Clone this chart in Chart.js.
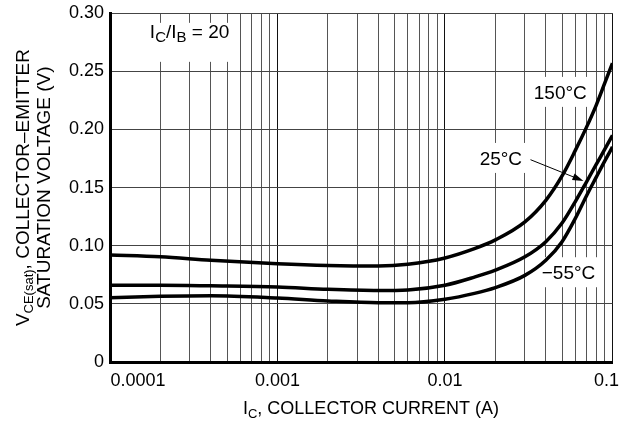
<!DOCTYPE html>
<html>
<head>
<meta charset="utf-8">
<script src="https://cdn.jsdelivr.net/npm/chart.js@4.4.1/dist/chart.umd.min.js"></script>
<style>
  html, body { margin: 0; padding: 0; background: #fff; }
  #wrap { width: 633px; height: 429px; }
</style>
</head>
<body>
<div id="wrap"><canvas id="vce"></canvas></div>
<script>
// --- data (Ic in A, Vce(sat) in V) ---
const currents = [0.0001, 0.0002, 0.0004, 0.001, 0.002, 0.004, 0.006, 0.01, 0.015,
                  0.02, 0.03, 0.04, 0.05, 0.06, 0.07, 0.08, 0.09, 0.1];
const vce150 = [0.092, 0.0905, 0.0875, 0.0845, 0.083, 0.0825, 0.084, 0.0895, 0.0975,
                0.105, 0.1205, 0.139, 0.160, 0.182, 0.202, 0.221, 0.240, 0.257];
const vce25  = [0.066, 0.066, 0.0655, 0.0645, 0.0625, 0.0615, 0.062, 0.066, 0.073,
                0.079, 0.0905, 0.1035, 0.1195, 0.138, 0.155, 0.170, 0.183, 0.195];
const vceM55 = [0.0553, 0.0565, 0.057, 0.055, 0.0525, 0.051, 0.051, 0.054, 0.059,
                0.064, 0.0745, 0.0875, 0.1035, 0.1235, 0.143, 0.159, 0.173, 0.185];

const decades = [0.0001, 0.001, 0.01, 0.1];
const decadeLabels = ['0.0001', '0.001', '0.01', '0.1'];

// curve labels, anchored in data space: [text, Ic, Vce]
const curveNotes = [
  ['150°C', 0.0339, 0.2263],
  ['25°C', 0.0161, 0.1695],
  ['\u221255°C', 0.0378, 0.0712]
];

const FONT = "'Liberation Sans', Arial, Helvetica, sans-serif";

function isDecade(v) {
  const l = Math.log10(v);
  return Math.abs(l - Math.round(l)) < 1e-6;
}

function toPoints(ys) {
  return currents.map((x, i) => ({ x, y: ys[i] }));
}

// draws text with subscript parts: parts = [[text, isSub], ...]
function richText(ctx, parts, x, y, size, subSize, measureOnly) {
  let w = 0;
  parts.forEach(([t, sub]) => {
    ctx.font = (sub ? subSize : size) + 'px ' + FONT;
    if (!measureOnly) ctx.fillText(t, x + w, y + (sub ? size * 0.2 : 0));
    w += ctx.measureText(t).width;
  });
  return w;
}

const decorations = {
  id: 'decorations',
  beforeDraw(chart) {
    // first / last decade labels sit inside the plot like the original
    const items = chart.scales.x.getLabelItems();
    items.forEach(it => {
      if (it.label === '0.0001') it.options.translation[0] += 28;
      if (it.label === '0.1') it.options.translation[0] -= 6;
    });
  },
  beforeDatasetsDraw(chart) {
    const { ctx, scales: { x, y } } = chart;
    ctx.save();
    ctx.textBaseline = 'alphabetic';
    ctx.textAlign = 'left';

    // Ic/Ib = 20 box
    const ibParts = [['I', false], ['C', true], ['/I', false], ['B', true], [' = 20', false]];
    const ix = x.getPixelForValue(0.000173), iy = y.getPixelForValue(0.2788);
    const iw = richText(ctx, ibParts, 0, 0, 19, 15, true);
    ctx.fillStyle = '#fff';
    ctx.fillRect(ix - 10, iy - 15, iw + 20, 39);
    ctx.fillStyle = '#000';
    richText(ctx, ibParts, ix, iy, 19, 15);

    // temperature labels with white boxes
    curveNotes.forEach(([t, cx, cy]) => {
      const px = x.getPixelForValue(cx), py = y.getPixelForValue(cy);
      ctx.font = '19px ' + FONT;
      const w = ctx.measureText(t).width;
      ctx.fillStyle = '#fff';
      ctx.fillRect(px - 6, py - 22, w + 12, 30);
      ctx.fillStyle = '#000';
      ctx.fillText(t, px, py);
    });
    ctx.restore();
  },
  afterDraw(chart) {
    const { ctx, chartArea, scales: { x, y } } = chart;
    ctx.save();
    ctx.fillStyle = '#000';
    ctx.strokeStyle = '#000';

    // arrow from the 25°C label to its curve
    const ax0 = x.getPixelForValue(0.0324), ay0 = y.getPixelForValue(0.174);
    const ax1 = x.getPixelForValue(0.0671), ay1 = y.getPixelForValue(0.1557);
    const ang = Math.atan2(ay1 - ay0, ax1 - ax0);
    ctx.lineWidth = 1;
    ctx.beginPath();
    ctx.moveTo(ax0, ay0);
    ctx.lineTo(ax1 - 8 * Math.cos(ang), ay1 - 8 * Math.sin(ang));
    ctx.stroke();
    ctx.beginPath();
    ctx.moveTo(ax1, ay1);
    ctx.lineTo(ax1 - 11 * Math.cos(ang) + 3.5 * Math.sin(ang), ay1 - 11 * Math.sin(ang) - 3.5 * Math.cos(ang));
    ctx.lineTo(ax1 - 11 * Math.cos(ang) - 3.5 * Math.sin(ang), ay1 - 11 * Math.sin(ang) + 3.5 * Math.cos(ang));
    ctx.closePath();
    ctx.fill();

    // x axis title
    ctx.textBaseline = 'alphabetic';
    const xParts = [['I', false], ['C', true], [', COLLECTOR CURRENT (A)', false]];
    const xw = richText(ctx, xParts, 0, 0, 18, 13, true);
    richText(ctx, xParts, 371 - xw / 2, 414, 18, 13);

    // y axis title, two rotated lines
    const midY = (chartArea.top + chartArea.bottom) / 2;
    const l1 = [['V', false], ['CE(sat)', true], [', COLLECTOR\u2013EMITTER', false]];
    const l2 = [['SATURATION VOLTAGE (V)', false]];
    ctx.translate(0, midY);
    ctx.rotate(-Math.PI / 2);
    const w1 = richText(ctx, l1, 0, 0, 19, 13, true);
    richText(ctx, l1, -w1 / 2, 29, 19, 13);
    const w2 = richText(ctx, l2, 0, 0, 19, 13, true);
    richText(ctx, l2, -w2 / 2, 50, 19, 13);
    ctx.restore();
  }
};

const curveStyle = {
  showLine: true,
  borderColor: '#000',
  borderWidth: 3.5,
  pointRadius: 0,
  cubicInterpolationMode: 'monotone',
  fill: false
};

new Chart(document.getElementById('vce'), {
  type: 'scatter',
  data: {
    datasets: [
      { label: '150°C', data: toPoints(vce150), ...curveStyle },
      { label: '25°C', data: toPoints(vce25), ...curveStyle },
      { label: '-55°C', data: toPoints(vceM55), ...curveStyle }
    ]
  },
  options: {
    responsive: true,
    maintainAspectRatio: false,
    animation: false,
    layout: { padding: { top: 8, right: 19, left: 0, bottom: 0 } },
    plugins: {
      legend: { display: false },
      tooltip: { enabled: false }
    },
    scales: {
      x: {
        type: 'logarithmic',
        min: 0.0001,
        max: 0.1,
        afterBuildTicks(scale) {
          const ticks = [];
          decades.slice(0, 3).forEach(d => {
            for (let k = 1; k <= 9; k++) ticks.push({ value: d * k, major: k === 1 });
          });
          ticks.push({ value: 0.1, major: true });
          scale.ticks = ticks;
        },
        afterFit(scale) { scale.height = 67; },
        ticks: {
          autoSkip: false,
          maxRotation: 0,
          padding: 8,
          color: '#000',
          font: { family: FONT, size: 18 },
          callback(value) {
            const i = decades.findIndex(d => Math.abs(d - value) / d < 1e-6);
            return i >= 0 ? decadeLabels[i] : '';
          }
        },
        grid: {
          drawTicks: false,
          lineWidth: 1,
          color: ctx => (ctx.tick && isDecade(ctx.tick.value)) ? '#111' : '#555'
        },
        border: { display: true, color: '#000', width: 3 }
      },
      y: {
        min: 0,
        max: 0.3,
        afterFit(scale) { scale.width = 110; },
        ticks: {
          stepSize: 0.05,
          padding: 6,
          color: '#000',
          font: { family: FONT, size: 18, lineHeight: 0.8 },
          callback: v => (v === 0 ? '0' : v.toFixed(2))
        },
        grid: { drawTicks: false, lineWidth: 1, color: '#444' },
        border: { display: true, color: '#000', width: 3 }
      }
    }
  },
  plugins: [decorations]
});
</script>
</body>
</html>
